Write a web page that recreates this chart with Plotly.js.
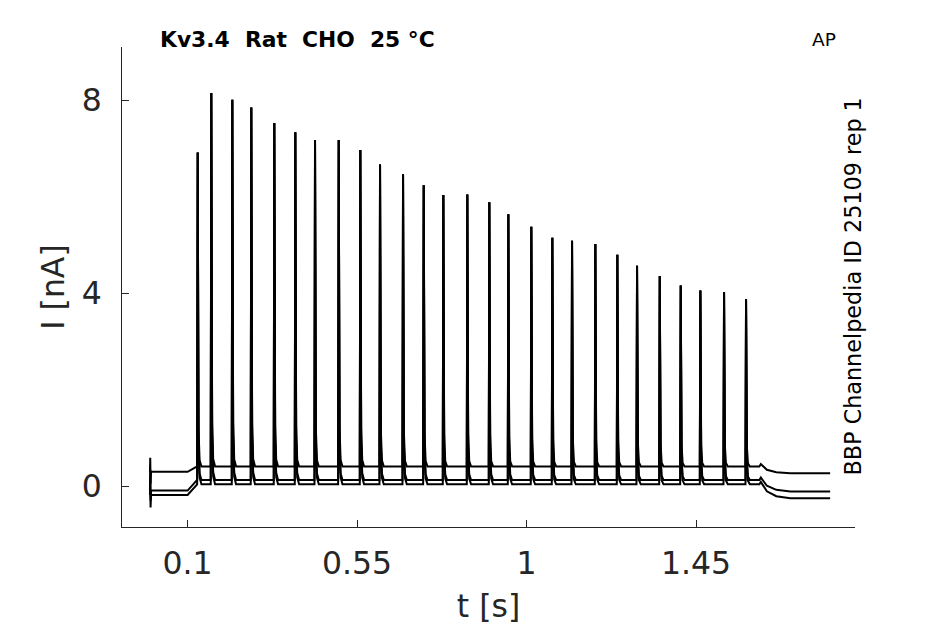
<!DOCTYPE html>
<html>
<head>
<meta charset="utf-8">
<script src="https://cdn.plot.ly/plotly-3.0.1.min.js"></script>
<style>html,body{margin:0;padding:0;background:#fff;}#chart{width:945px;height:624px;}</style>
</head>
<body>
<div id="chart"></div>
<script>
// ---- data ----
const spikeTimes = [0.1268, 0.1629, 0.2187, 0.2691, 0.3302, 0.3860, 0.4383, 0.5012, 0.5586,
  0.6109, 0.6720, 0.7269, 0.7790, 0.8427, 0.9011, 0.9516, 1.0126, 1.0684, 1.1207, 1.1826,
  1.2410, 1.2933, 1.3536, 1.4093, 1.4614, 1.5243, 1.5827];
const spikePeaks = [6.92, 8.15, 8.01, 7.85, 7.53, 7.34, 7.18, 7.18, 6.97, 6.67, 6.47, 6.24,
  6.04, 6.05, 5.89, 5.64, 5.38, 5.15, 5.09, 5.02, 4.80, 4.57, 4.36, 4.16, 4.06, 4.02, 3.88];
const holdLevels = [0.30, -0.09, -0.18];     // before the stimulus, per sweep
const stimLevels = [0.41, 0.13, 0.04];       // between spikes during the stimulus
const postLevels = [0.27, -0.11, -0.25];     // after the stimulus
const artifactHigh = [0.59, 0.35, 0.20];
const artifactLow = [0.05, -0.30, -0.44];
const recStart = 0.0, stimOn = 0.100, stimOnEnd = 0.125, stimOff = 1.618, stimOffEnd = 1.700, recEnd = 1.806;
const xTicks = [0.1, 0.55, 1, 1.45];
const xTickLabels = ['0.1', '0.55', '1', '1.45'];
const yTicks = [0, 4, 8];
const yTickLabels = ['0', '4', '8'];

// ---- build the sweeps ----
function sweep(i) {
  const x = [], y = [];
  const add = (a, b) => { x.push(a); y.push(b); };
  const h = holdLevels[i], s = stimLevels[i], p = postLevels[i];
  add(recStart, h); add(recStart + 0.0008, artifactHigh[i]); add(recStart + 0.0016, artifactLow[i]);
  add(recStart + 0.003, h); add(stimOn, h);
  for (let k = 0; k < spikeTimes.length; k++) {
    const t = spikeTimes[k], pk = spikePeaks[k];
    const base = (t - 0.0015 < stimOnEnd) ? s - 0.02 : s;
    add(t - 0.0015, base);
    add(t, pk);
    add(t + 0.0022, s + 0.12 * (pk - s));
    add(t + 0.005, s + 0.02 * (pk - s));
    add(t + 0.010, s);
  }
  add(stimOff, s); add(stimOff + 0.004, s + 0.05);
  add(stimOff + 0.020, (s + p) / 2); add(stimOff + 0.045, p + 0.15 * (s - p));
  add(stimOffEnd, p); add(recEnd, p);
  return { x, y, type: 'scatter', mode: 'lines', line: { color: '#000', width: 2 },
           hoverinfo: 'skip', showlegend: false };
}
const data = [0, 1, 2].map(sweep);

const W = 945, H = 624, ML = 122, MR = 90, MT = 47, MB = 97;
const PW = W - ML - MR, PH = H - MT - MB;
const px = v => (v - ML) / PW, py = v => (H - MB - v) / PH;
const font = 'DejaVu Sans, Liberation Sans, sans-serif';

const layout = {
  width: W, height: H,
  margin: { l: ML, r: MR, t: MT, b: MB, pad: 0 },
  paper_bgcolor: '#fff', plot_bgcolor: '#fff',
  font: { family: font, color: '#262626' },
  xaxis: {
    range: [-0.0742, 1.872], tickvals: xTicks, ticktext: xTickLabels,
    ticks: 'inside', ticklen: 7, tickwidth: 1, tickcolor: '#262626',
    showline: true, linecolor: '#262626', linewidth: 1, mirror: false,
    showgrid: false, zeroline: false, tickfont: { size: 31.5, color: '#262626', family: font },
    ticklabelstandoff: 8,
    title: { text: 't [s]', font: { size: 31.5, color: '#262626', family: font }, standoff: 16 },
    automargin: false, fixedrange: true
  },
  yaxis: {
    range: [-0.845, 9.106], tickvals: yTicks, ticktext: yTickLabels,
    ticks: 'inside', ticklen: 7, tickwidth: 1, tickcolor: '#262626',
    showline: true, linecolor: '#262626', linewidth: 1, mirror: false,
    showgrid: false, zeroline: false, tickfont: { size: 31.5, color: '#262626', family: font },
    ticklabelstandoff: 13,
    title: { text: 'I [nA]', font: { size: 31.5, color: '#262626', family: font }, standoff: 7 },
    automargin: false, fixedrange: true
  },
  annotations: [
    { text: '<b>Kv3.4\u00a0\u00a0Rat\u00a0\u00a0CHO\u00a0\u00a025 °C</b>', xref: 'paper', yref: 'paper',
      x: px(158), y: py(40), xanchor: 'left', yanchor: 'middle', showarrow: false,
      font: { size: 21.8, color: '#000', family: font } },
    { text: 'AP', xref: 'paper', yref: 'paper', x: px(824), y: py(40),
      xanchor: 'center', yanchor: 'middle', showarrow: false,
      font: { size: 18.5, color: '#000', family: font } },
    { text: 'BBP Channelpedia ID 25109 rep 1', xref: 'paper', yref: 'paper',
      x: px(852), y: py(286.5), xanchor: 'center', yanchor: 'middle', textangle: -90,
      showarrow: false, font: { size: 22.3, color: '#000', family: font } }
  ]
};

Plotly.newPlot('chart', data, layout, { staticPlot: true, displayModeBar: false });
</script>
</body>
</html>
